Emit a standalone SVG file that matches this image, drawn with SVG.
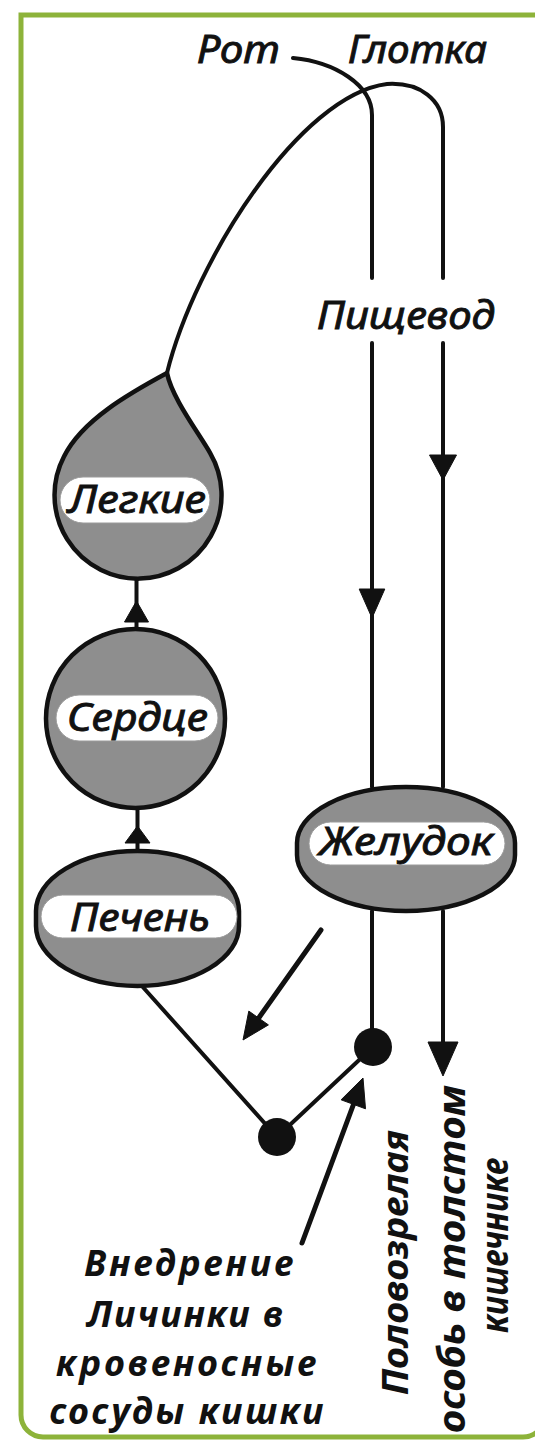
<svg xmlns="http://www.w3.org/2000/svg" width="535" height="1440" viewBox="0 0 535 1440">
<style>
.ln{fill:none;stroke:#111;stroke-width:4;stroke-linecap:round;stroke-linejoin:round}
.thk{fill:none;stroke:#111;stroke-width:5;stroke-linecap:round}
.ah{fill:#111;stroke:#111;stroke-width:1;stroke-linejoin:round}
.org{fill:#8e8e8e;stroke:#111;stroke-width:4.5}
.pill{fill:#fff;stroke:#9a9a9a;stroke-width:1}
.t{font-family:"Noto Sans","DejaVu Sans",sans-serif;font-style:italic;fill:#111}
.lbl{font-size:38px;stroke:#111;stroke-width:0.9}
.big{font-size:36px;font-weight:bold}
.vt{font-size:35px;font-weight:bold}
.vt2{font-size:37px;font-weight:bold}
.dot{fill:#111}
</style>
<rect x="0" y="0" width="535" height="1440" fill="#fff"/>
<path id="frame" d="M21,1415 L21,15 L545,15 L545,1415 A22,22 0 0 1 523,1437 L43,1437 A22,22 0 0 1 21,1415 Z" fill="#fff" stroke="#8db33a" stroke-width="5"/>

<g id="connectors">
  <path class="ln" d="M293,58 C335,62 372,85 372,115 L372,278"/>
  <path class="ln" d="M167,373 C195,260 300,95 387,84 C420,82 443,100 443,127 L443,278"/>
  <line class="ln" x1="372" y1="343" x2="372" y2="787"/>
  <line class="ln" x1="443" y1="343" x2="443" y2="787"/>
  <polygon class="ah" points="429.5,455 456.5,455 443,480"/>
  <polygon class="ah" points="359.2,589 384.8,589 372,618"/>
  <line class="ln" x1="136.5" y1="579" x2="136.5" y2="629"/>
  <polygon class="ah" points="136.5,601 124.5,622 148.5,622"/>
  <line class="ln" x1="137.5" y1="808" x2="137.5" y2="851"/>
  <polygon class="ah" points="137.5,826 125,843 150,843"/>
  <line class="ln" x1="372" y1="911" x2="372" y2="1040"/>
  <line class="ln" x1="443" y1="911" x2="443" y2="1045"/>
  <polygon class="ah" points="428,1042 458,1042 443,1076"/>
  <line class="ln" x1="141" y1="985" x2="277" y2="1137"/>
  <line class="ln" x1="277" y1="1137" x2="373" y2="1047"/>
  <line class="thk" x1="321" y1="930" x2="258" y2="1019"/>
  <polygon class="ah" points="243,1040 248.8,1011.1 268.4,1024.9"/>
  <line class="thk" x1="302" y1="1243" x2="354" y2="1103"/>
  <polygon class="ah" points="363,1078 341.1,1099.8 365.5,1108.8"/>
</g>

<g id="dots">
  <circle class="dot" cx="373" cy="1047" r="19"/>
  <circle class="dot" cx="277" cy="1137" r="19"/>
</g>

<g id="rot"><text class="t lbl" x="197" y="63" textLength="83" lengthAdjust="spacingAndGlyphs">Рот</text></g>
<g id="glotka"><text class="t lbl" x="348" y="63" textLength="139" lengthAdjust="spacingAndGlyphs">Глотка</text></g>
<g id="pishchevod"><text class="t lbl" x="317" y="329" textLength="178" lengthAdjust="spacingAndGlyphs">Пищевод</text></g>

<g id="lungs">
  <path class="org" d="M167,373 C130,393 82,420 64,456.5 A83.5,83.5 0 1 0 210.3,453.3 C197.8,431.6 172,398 167,373 Z"/>
  <rect class="pill" x="60" y="477" width="150" height="46" rx="23"/>
  <text class="t lbl" x="68" y="513" textLength="138" lengthAdjust="spacingAndGlyphs">Легкие</text>
</g>

<g id="heart">
  <circle class="org" cx="135.5" cy="718.5" r="89.5"/>
  <rect class="pill" x="56" y="695" width="162" height="46" rx="23"/>
  <text class="t lbl" x="67" y="731" textLength="141" lengthAdjust="spacingAndGlyphs">Сердце</text>
</g>

<g id="liver">
  <rect class="org" x="36" y="851" width="203" height="135" rx="101.5" ry="60"/>
  <rect class="pill" x="41" y="895" width="196" height="43" rx="21.5"/>
  <text class="t lbl" x="70" y="931" textLength="140" lengthAdjust="spacingAndGlyphs">Печень</text>
</g>

<g id="stomach">
  <rect class="org" x="297" y="787" width="218" height="124" rx="109" ry="56"/>
  <rect class="pill" x="309" y="822" width="196" height="43" rx="21.5"/>
  <text class="t lbl" x="319" y="855" textLength="174" lengthAdjust="spacingAndGlyphs">Желудок</text>
</g>

<g id="larvae-text">
  <text class="t big" x="84" y="1276" textLength="209" lengthAdjust="spacing">Внедрение</text>
  <text class="t big" x="87" y="1327" textLength="196" lengthAdjust="spacing">Личинки в</text>
  <text class="t big" x="56" y="1376" textLength="260" lengthAdjust="spacing">кровеносные</text>
  <text class="t big" x="49.5" y="1424" textLength="274" lengthAdjust="spacing">сосуды кишки</text>
</g>

<g id="adult-text">
  <text class="t vt" transform="translate(408,1395) rotate(-90)" x="0" y="0" textLength="265" lengthAdjust="spacingAndGlyphs">Половозрелая</text>
  <text class="t vt2" transform="translate(465,1433) rotate(-90)" x="0" y="0" textLength="348" lengthAdjust="spacingAndGlyphs">особь в толстом</text>
  <text class="t vt2" transform="translate(508,1333) rotate(-90)" x="0" y="0" textLength="175" lengthAdjust="spacingAndGlyphs">кишечнике</text>
</g>
</svg>
